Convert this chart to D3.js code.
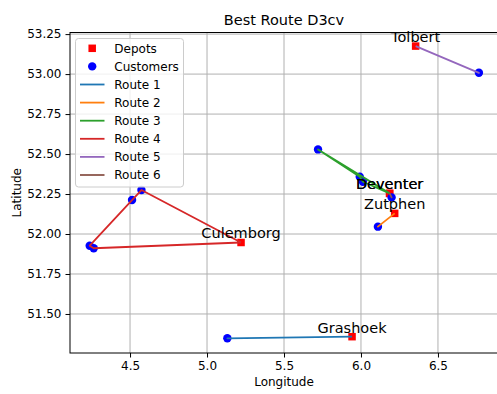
<!DOCTYPE html>
<html>
<head>
<meta charset="utf-8">
<script src="https://cdn.jsdelivr.net/npm/d3@7"></script>
<style>
  html, body { margin: 0; padding: 0; background: #fff; }
  svg { display: block; font-family: "DejaVu Sans", sans-serif; }
</style>
</head>
<body>
<svg id="chart" width="497" height="394"></svg>
<script>
// Depots (one per route)
const depotNames = ["Grashoek", "Zutphen", "Deventer", "Culemborg", "Tolbert", "Deventer"];
const depotLon = [5.942, 6.219, 6.186, 5.221, 6.355, 6.186];
const depotLat = [51.358, 52.129, 52.254, 51.947, 53.175, 52.254];

// Customers
const customerLon = [5.132, 6.110, 5.721, 5.992, 6.013, 4.238, 4.264, 4.513, 4.574, 6.766, 6.199];
const customerLat = [51.348, 52.046, 52.529, 52.358, 52.327, 51.927, 51.911, 52.2125, 52.275, 53.008, 52.229];

// Each route starts and ends at its depot; stops are customer indices
const routeNames = ["Route 1", "Route 2", "Route 3", "Route 4", "Route 5", "Route 6"];
const routeStops = [[0], [1], [4, 3, 2], [8, 7, 5, 6], [9], [10]];
const routeColors = ["#1f77b4", "#ff7f0e", "#2ca02c", "#d62728", "#9467bd", "#8c564b"];

// Axis ticks
const xTicks = [4.5, 5.0, 5.5, 6.0, 6.5];
const yTicks = [51.50, 51.75, 52.00, 52.25, 52.50, 52.75, 53.00, 53.25];

const svg = d3.select("#chart");
const plotLeft = 70, plotRight = 498, plotTop = 32.5, plotBottom = 353;

const x = d3.scaleLinear().domain([4.11, 6.89]).range([plotLeft, plotRight]);
const y = d3.scaleLinear().domain([51.256, 53.26]).range([plotBottom, plotTop]);

// grid
const grid = svg.append("g");
grid.selectAll("line.gx").data(xTicks).join("line")
  .attr("x1", d => x(d)).attr("x2", d => x(d))
  .attr("y1", plotTop).attr("y2", plotBottom)
  .attr("stroke", "#b0b0b0").attr("stroke-width", 1);
grid.selectAll("line.gy").data(yTicks).join("line")
  .attr("x1", plotLeft).attr("x2", plotRight)
  .attr("y1", d => y(d)).attr("y2", d => y(d))
  .attr("stroke", "#b0b0b0").attr("stroke-width", 1);

// axes
const fontTick = "12px";
const xAxis = svg.append("g").attr("transform", `translate(0,${plotBottom})`)
  .call(d3.axisBottom(x).tickValues(xTicks).tickFormat(d3.format(".1f")).tickSize(4.5).tickPadding(4));
const yAxis = svg.append("g").attr("transform", `translate(${plotLeft},0)`)
  .call(d3.axisLeft(y).tickValues(yTicks).tickFormat(d3.format(".2f")).tickSize(4.5).tickPadding(4));
[xAxis, yAxis].forEach(a => {
  a.select(".domain").remove();
  a.selectAll(".tick line").attr("stroke", "#000").attr("stroke-width", 1);
  a.selectAll(".tick text").attr("fill", "#000")
    .style("font-size", fontTick).style("font-family", "DejaVu Sans, sans-serif");
});

// depots
const depotSize = 7.5;
svg.append("g").selectAll("rect").data(depotNames.map((n, i) => i)).join("rect")
  .attr("x", i => x(depotLon[i]) - depotSize / 2)
  .attr("y", i => y(depotLat[i]) - depotSize / 2)
  .attr("width", depotSize).attr("height", depotSize)
  .attr("fill", "#ff0000");

// customers
svg.append("g").selectAll("circle").data(customerLon.map((d, i) => i)).join("circle")
  .attr("cx", i => x(customerLon[i]))
  .attr("cy", i => y(customerLat[i]))
  .attr("r", 4.2)
  .attr("fill", "#0000ff");

// routes
const line = d3.line().x(d => x(d[0])).y(d => y(d[1]));
svg.append("g").selectAll("path").data(routeStops.map((s, i) => i)).join("path")
  .attr("d", i => {
    const pts = [[depotLon[i], depotLat[i]]]
      .concat(routeStops[i].map(c => [customerLon[c], customerLat[c]]))
      .concat([[depotLon[i], depotLat[i]]]);
    return line(pts);
  })
  .attr("fill", "none")
  .attr("stroke", i => routeColors[i])
  .attr("stroke-width", 1.8)
  .attr("stroke-linejoin", "round");

// depot names
svg.append("g").selectAll("text").data(depotNames.map((n, i) => i)).join("text")
  .attr("x", i => x(depotLon[i]))
  .attr("y", i => y(depotLat[i]) - 4)
  .attr("text-anchor", "middle")
  .style("font-size", "14.5px")
  .attr("fill", "#000")
  .text(i => depotNames[i]);

// frame
svg.append("rect")
  .attr("x", plotLeft).attr("y", plotTop)
  .attr("width", plotRight - plotLeft).attr("height", plotBottom - plotTop)
  .attr("fill", "none").attr("stroke", "#000").attr("stroke-width", 1);

// title and axis labels
svg.append("text").attr("x", (plotLeft + plotRight) / 2).attr("y", 25)
  .attr("text-anchor", "middle").style("font-size", "14.5px").text("Best Route D3cv");
svg.append("text").attr("x", (plotLeft + plotRight) / 2).attr("y", 386)
  .attr("text-anchor", "middle").style("font-size", "12px").text("Longitude");
svg.append("text").attr("transform", `translate(20.5,${(plotTop + plotBottom) / 2}) rotate(-90)`)
  .attr("text-anchor", "middle").style("font-size", "12px").text("Latitude");

// legend
const lg = svg.append("g");
lg.append("rect").attr("x", 75.5).attr("y", 38.5).attr("width", 108).attr("height", 148.5)
  .attr("rx", 3).attr("fill", "#fff").attr("fill-opacity", 0.8)
  .attr("stroke", "#cccccc").attr("stroke-width", 1);
const rowY = i => 48.3 + 18.1 * i;
const entries = [{label: "Depots", kind: "square", color: "#ff0000"},
                 {label: "Customers", kind: "circle", color: "#0000ff"}]
  .concat(routeNames.map((n, i) => ({label: n, kind: "line", color: routeColors[i]})));
entries.forEach((e, i) => {
  const cy = rowY(i);
  if (e.kind === "square") {
    lg.append("rect").attr("x", 92.2 - depotSize / 2).attr("y", cy - depotSize / 2)
      .attr("width", depotSize).attr("height", depotSize).attr("fill", e.color);
  } else if (e.kind === "circle") {
    lg.append("circle").attr("cx", 92.2).attr("cy", cy).attr("r", 4.2).attr("fill", e.color);
  } else {
    lg.append("line").attr("x1", 80).attr("x2", 104.5).attr("y1", cy).attr("y2", cy)
      .attr("stroke", e.color).attr("stroke-width", 1.8);
  }
  lg.append("text").attr("x", 114.3).attr("y", cy + 4.3)
    .style("font-size", "12px").attr("fill", "#000").text(e.label);
});
</script>
</body>
</html>
